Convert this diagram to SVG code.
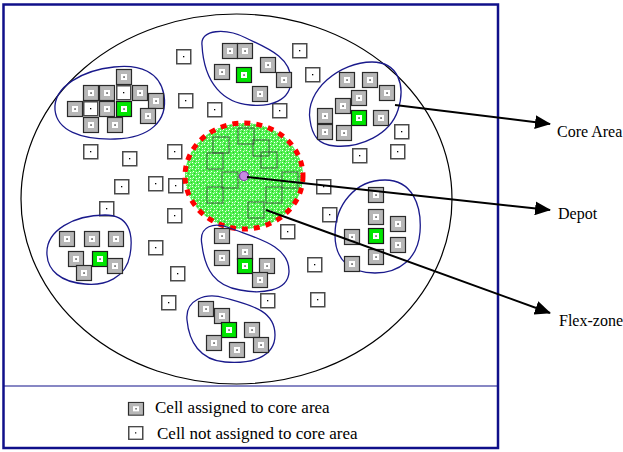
<svg xmlns="http://www.w3.org/2000/svg" width="623" height="452" viewBox="0 0 623 452">
  <style>
    .frame { fill: none; stroke: #10108a; stroke-width: 2.5; }
    .sep { stroke: #10108a; stroke-width: 1.2; }
    .region { fill: none; stroke: #000; stroke-width: 1.2; }
    .blob { fill: none; stroke: #1a1a8c; stroke-width: 1.3; }
    .link { stroke: #000; stroke-width: 2; fill: none; }
    .ghost { fill: none; stroke: #3a3a3a; stroke-width: 1; opacity: 0.75; }
    text { font-family: "Liberation Serif", "Times New Roman", serif; font-size: 16px; fill: #000; }
    .legend-text { font-size: 17px; }
  </style>
  <defs>
    <pattern id="speckle" width="6" height="6" patternUnits="userSpaceOnUse">
      <rect width="6" height="6" fill="#52f052"/>
      <rect x="0" y="0" width="1" height="1" fill="#fff"/>
      <rect x="3" y="1" width="1" height="1" fill="#f0fff0"/>
      <rect x="1" y="3" width="1" height="1" fill="#fff"/>
      <rect x="4" y="4" width="1" height="1" fill="#fff"/>
      <rect x="5" y="2" width="1" height="1" fill="#22cc22"/>
      <rect x="2" y="5" width="1" height="1" fill="#22cc22"/>
      <rect x="4" y="0" width="1" height="1" fill="#a0f8a0"/>
      <rect x="0" y="4" width="1" height="1" fill="#a0f8a0"/>
      <rect x="2" y="2" width="1" height="1" fill="#33ff33"/>
    </pattern>
    <g id="core">
      <rect x="0.5" y="0.5" width="15" height="15" fill="#b7b7b7" stroke="#2a2a2a" stroke-width="1.2"/>
      <rect x="5" y="5" width="6" height="6" fill="#fff"/>
      <rect x="7.4" y="7.4" width="1.3" height="1.3" fill="#000"/>
    </g>
    <g id="seed">
      <rect x="0.5" y="0.5" width="15" height="15" fill="#00e600" stroke="#1a1a1a" stroke-width="1.2"/>
      <rect x="5" y="5" width="6" height="6" fill="#fff"/>
      <rect x="7.4" y="7.4" width="1.3" height="1.3" fill="#000"/>
    </g>
    <g id="free">
      <rect x="0.75" y="0.75" width="14" height="14" fill="#fff" stroke="#4a4a4a" stroke-width="1.5"/>
      <rect x="7" y="7" width="1.3" height="1.3" fill="#000"/>
    </g>
    <marker id="head" markerWidth="16" markerHeight="14" refX="15" refY="7" orient="auto" markerUnits="userSpaceOnUse">
      <path d="M0,0 L16,7 L0,14 Z" fill="#000"/>
    </marker>
  </defs>

  <!-- outer frame and legend divider -->
  <rect class="frame" x="3.5" y="4.5" width="494.5" height="443.5"/>
  <line class="sep" x1="3.5" y1="386" x2="498" y2="386"/>

  <!-- service region -->
  <ellipse id="region" class="region" cx="236.5" cy="199" rx="215.5" ry="185"/>

  <!-- unassigned cells -->
  <g id="free-cells">
    <use href="#free" x="176" y="49"/>
    <use href="#free" x="292" y="43"/>
    <use href="#free" x="305" y="67"/>
    <use href="#free" x="178" y="93"/>
    <use href="#free" x="207" y="102"/>
    <use href="#free" x="272" y="103"/>
    <use href="#free" x="394" y="124"/>
    <use href="#free" x="390" y="144"/>
    <use href="#free" x="352" y="148"/>
    <use href="#free" x="83" y="144"/>
    <use href="#free" x="122" y="151"/>
    <use href="#free" x="167" y="144"/>
    <use href="#free" x="114" y="179"/>
    <use href="#free" x="148" y="176"/>
    <use href="#free" x="168" y="178"/>
    <use href="#free" x="99" y="201"/>
    <use href="#free" x="167" y="208"/>
    <use href="#free" x="316" y="179"/>
    <use href="#free" x="322" y="207"/>
    <use href="#free" x="280" y="224"/>
    <use href="#free" x="148" y="240"/>
    <use href="#free" x="170" y="266"/>
    <use href="#free" x="161" y="295"/>
    <use href="#free" x="307" y="257"/>
    <use href="#free" x="310" y="292"/>
    <use href="#free" x="260" y="293"/>
  </g>

  <!-- flex zone around the depot -->
  <g id="flex-zone">
    <ellipse cx="244" cy="176" rx="59" ry="53" fill="url(#speckle)"/>
    <rect class="ghost" x="213" y="137" width="16" height="16"/>
    <rect class="ghost" x="238" y="128" width="16" height="16"/>
    <rect class="ghost" x="253" y="140" width="16" height="16"/>
    <rect class="ghost" x="261" y="152" width="16" height="16"/>
    <rect class="ghost" x="207" y="153" width="16" height="16"/>
    <rect class="ghost" x="222" y="172" width="16" height="16"/>
    <rect class="ghost" x="282" y="172" width="16" height="16"/>
    <rect class="ghost" x="207" y="187" width="16" height="16"/>
    <rect class="ghost" x="266" y="187" width="16" height="16"/>
    <rect class="ghost" x="248" y="202" width="16" height="16"/>
    <ellipse cx="244" cy="176" rx="59" ry="53" fill="none" stroke="#ff0000" stroke-width="5" stroke-dasharray="6 6"/>
  </g>

  <!-- core area 1 -->
  <g id="core-area-1">
    <path class="blob" d="M55,110 C53,86 84,70 114,67 C140,64 160,72 164,95 C168,121 150,138 115,139 C80,140 57,130 55,110 Z"/>
    <use href="#core" x="116" y="69"/>
    <use href="#core" x="83" y="85"/>
    <use href="#core" x="99" y="85"/>
    <use href="#free" x="116" y="85"/>
    <use href="#core" x="132" y="85"/>
    <use href="#core" x="148" y="93"/>
    <use href="#core" x="67" y="101"/>
    <use href="#free" x="83" y="101"/>
    <use href="#core" x="99" y="101"/>
    <use href="#seed" x="116" y="101"/>
    <use href="#core" x="140" y="108"/>
    <use href="#core" x="83" y="117"/>
    <use href="#core" x="107" y="117"/>
  </g>

  <!-- core area 2 -->
  <g id="core-area-2">
    <path class="blob" d="M202,45 C200,29 226,28 246,38 C264,47 291,56 291,80 C291,101 270,107 250,105 C224,103 204,84 202,45 Z"/>
    <use href="#core" x="222" y="43"/>
    <use href="#core" x="237" y="43"/>
    <use href="#core" x="214" y="64"/>
    <use href="#seed" x="236" y="67"/>
    <use href="#core" x="260" y="57"/>
    <use href="#core" x="276" y="72"/>
    <use href="#core" x="252" y="86"/>
  </g>

  <!-- core area 3 -->
  <g id="core-area-3">
    <path class="blob" d="M310,120 C305,90 340,62 372,62 C398,62 406,85 398,110 C390,135 360,148 335,146 C318,145 312,135 310,120 Z"/>
    <use href="#core" x="339" y="72"/>
    <use href="#core" x="362" y="72"/>
    <use href="#core" x="379" y="85"/>
    <use href="#core" x="351" y="90"/>
    <use href="#core" x="335" y="98"/>
    <use href="#core" x="317" y="108"/>
    <use href="#seed" x="351" y="110"/>
    <use href="#core" x="373" y="110"/>
    <use href="#core" x="317" y="124"/>
    <use href="#core" x="336" y="125"/>
  </g>

  <!-- core area 4 -->
  <g id="core-area-4">
    <path class="blob" d="M47,255 C45,230 75,215 105,215 C128,215 134,232 130,255 C126,278 105,286 85,284 C60,282 48,270 47,255 Z"/>
    <use href="#core" x="59" y="231"/>
    <use href="#core" x="84" y="231"/>
    <use href="#core" x="108" y="231"/>
    <use href="#core" x="68" y="251"/>
    <use href="#seed" x="92" y="251"/>
    <use href="#core" x="107" y="258"/>
    <use href="#core" x="76" y="265"/>
  </g>

  <!-- core area 5 -->
  <g id="core-area-5">
    <path class="blob" d="M202,245 C198,225 215,222 230,228 C255,238 290,245 289,272 C288,292 260,294 240,290 C215,286 205,270 202,245 Z"/>
    <use href="#core" x="214" y="228"/>
    <use href="#core" x="214" y="250"/>
    <use href="#core" x="237" y="244"/>
    <use href="#seed" x="237" y="258"/>
    <use href="#core" x="259" y="258"/>
    <use href="#core" x="252" y="272"/>
  </g>

  <!-- core area 6 -->
  <g id="core-area-6">
    <path class="blob" d="M187,320 C185,300 205,292 225,298 C250,305 275,310 275,335 C275,358 250,364 225,362 C200,360 189,342 187,320 Z"/>
    <use href="#core" x="198" y="301"/>
    <use href="#core" x="214" y="308"/>
    <use href="#seed" x="221" y="322"/>
    <use href="#core" x="244" y="322"/>
    <use href="#core" x="253" y="337"/>
    <use href="#core" x="206" y="335"/>
    <use href="#core" x="229" y="342"/>
  </g>

  <!-- core area 7 -->
  <g id="core-area-7">
    <path class="blob" d="M335,235 C335,205 355,180 385,180 C412,180 422,205 420,232 C418,258 400,273 375,273 C350,273 335,260 335,235 Z"/>
    <use href="#core" x="368" y="187"/>
    <use href="#core" x="368" y="209"/>
    <use href="#core" x="390" y="216"/>
    <use href="#seed" x="368" y="228"/>
    <use href="#core" x="390" y="237"/>
    <use href="#core" x="368" y="249"/>
    <use href="#core" x="344" y="229"/>
    <use href="#core" x="344" y="256"/>
  </g>

  <!-- depot -->
  <g id="depot">
    <circle cx="244" cy="176" r="4.5" fill="#c58be0" stroke="#8a2fb0" stroke-width="1.2"/>
  </g>

  <!-- callout arrows -->
  <g id="connectors">
    <line class="link" x1="395" y1="105" x2="550" y2="124" marker-end="url(#head)"/>
    <line class="link" x1="247" y1="177" x2="550" y2="210" marker-end="url(#head)"/>
    <line class="link" x1="266" y1="210" x2="550" y2="313" marker-end="url(#head)"/>
  </g>

  <!-- callout labels -->
  <g id="labels">
    <text x="557" y="137">Core Area</text>
    <text x="558" y="219">Depot</text>
    <text x="559" y="326">Flex-zone</text>
  </g>

  <!-- legend -->
  <g id="legend">
    <use href="#core" x="128" y="402" transform="translate(128,402) scale(1,0.85) translate(-128,-402)"/>
    <text class="legend-text" x="155" y="413">Cell assigned to core area</text>
    <use href="#free" x="128" y="426" transform="translate(128,426) scale(1,0.9) translate(-128,-426)"/>
    <text class="legend-text" x="157" y="439">Cell not assigned to core area</text>
  </g>
</svg>
